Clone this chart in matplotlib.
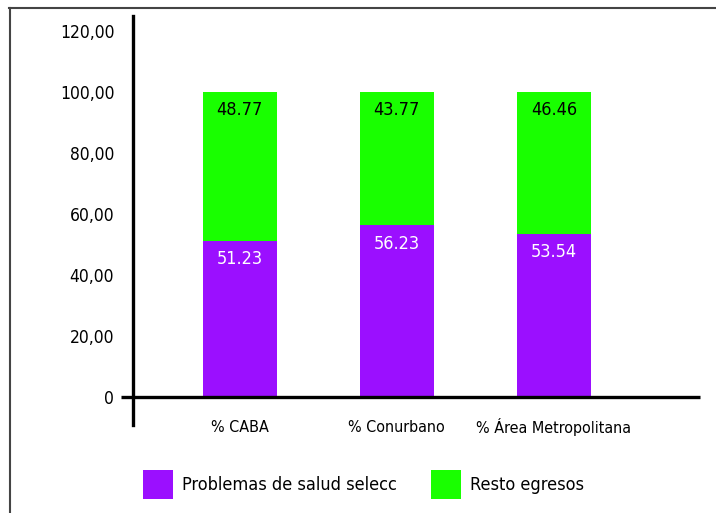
import matplotlib
matplotlib.use("Agg")
import matplotlib.pyplot as plt
from matplotlib.lines import Line2D
import numpy as np

categories = ["% CABA", "% Conurbano", "% Área Metropolitana"]
problemas = [51.23, 56.23, 53.54]
resto = [48.77, 43.77, 46.46]
yticks = [0, 20, 40, 60, 80, 100, 120]
ytick_labels = ["0", "20,00", "40,00", "60,00", "80,00", "100,00", "120,00"]

purple = "#9b0fff"
green = "#19ff00"

plt.rcParams['font.family'] = ['DejaVu Sans']
plt.rcParams['font.stretch'] = 'condensed'

W, H = 716, 513
fig = plt.figure(figsize=(W / 100, H / 100), dpi=100)
ax = fig.add_axes([133 / W, 1 - 425 / H, (700 - 133) / W, (425 - 16) / H])

x = np.arange(len(categories))
bw = 0.47
ax.bar(x, problemas, bw, color=purple, label="Problemas de salud selecc")
ax.bar(x, resto, bw, bottom=problemas, color=green, label="Resto egresos")

# value labels near the top of each segment
for i in range(len(categories)):
    ax.text(x[i], problemas[i] - 6, f"{problemas[i]:.2f}", ha="center", va="center",
            color="white", fontsize=13)
    ax.text(x[i], problemas[i] + resto[i] - 6, f"{resto[i]:.2f}", ha="center", va="center",
            color="black", fontsize=13)

ax.set_xlim(-0.68, 2.93)
ax.set_ylim(-9.2, 124.9)

for s in ["top", "right", "bottom"]:
    ax.spines[s].set_visible(False)
ax.spines["left"].set_linewidth(2.4)
ax.spines["left"].set_color("black")

# horizontal axis at zero, sticking out a bit left of the y axis
ax.plot([-0.755, 2.93], [0, 0], color="black", lw=2.4, clip_on=False, solid_capstyle="butt")

ax.set_yticks(yticks)
ax.set_yticklabels(ytick_labels, fontsize=12.5)
ax.tick_params(axis="y", length=0, pad=13.5)
ax.set_xticks([])
for i, c in enumerate(categories):
    ax.text(x[i], -10, c, ha="center", va="center", fontsize=11.5)

leg = fig.legend(loc="lower left", bbox_to_anchor=(127 / W, -2 / H), ncol=2,
                 frameon=False, fontsize=13, handlelength=1.65, handleheight=2.05,
                 handletextpad=0.5, columnspacing=1.9)

# frame lines (top and left) of the original picture
fig.add_artist(Line2D([9 / W, 1], [1 - 7.5 / H, 1 - 7.5 / H], color="#444444", lw=1.5))
fig.add_artist(Line2D([9.5 / W, 9.5 / W], [0, 1 - 7.5 / H], color="#444444", lw=1.5))

fig.savefig("out.png", dpi=100)
